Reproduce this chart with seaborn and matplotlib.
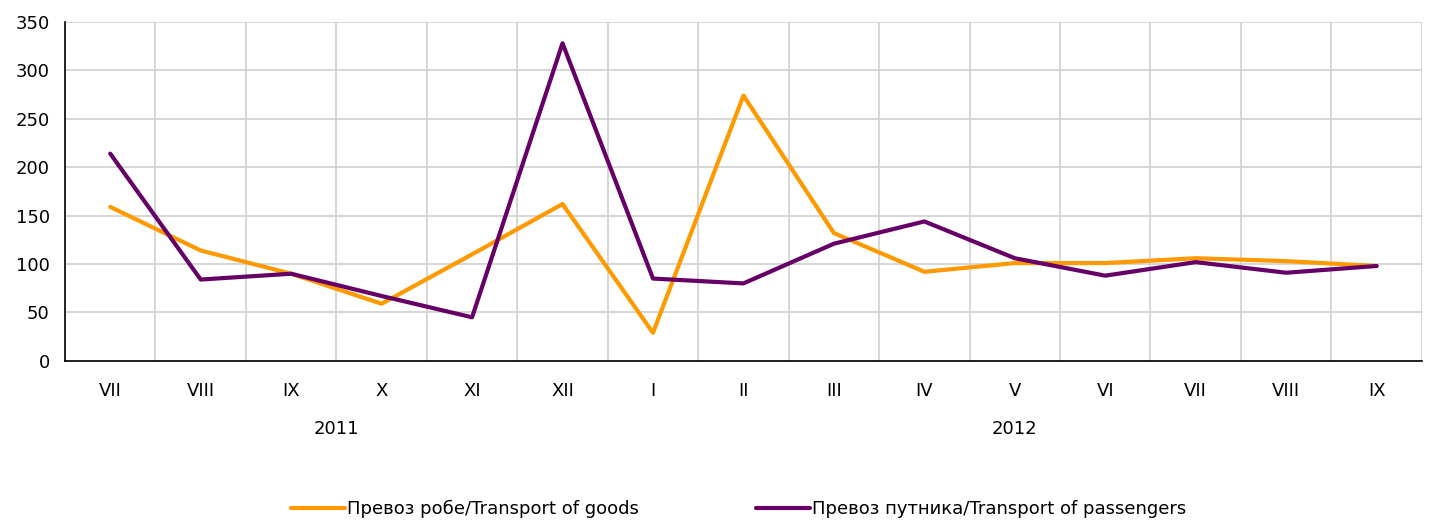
import pandas as pd
import numpy as np
import seaborn as sns
from matplotlib import pyplot as plt
from matplotlib.ticker import FixedLocator

months = ['VII', 'VIII', 'IX', 'X', 'XI', 'XII', 'I', 'II', 'III', 'IV', 'V', 'VI', 'VII', 'VIII', 'IX']
years = ['2011', '2012']
year_span = [(0, 5), (6, 14)]  # first and last month index of each year

goods = [159, 114, 90, 59, 110, 162, 29, 274, 132, 92, 101, 101, 106, 103, 98]
passengers = [214, 84, 90, 67, 45, 328, 85, 80, 121, 144, 106, 88, 102, 91, 98]

label_goods = 'Превоз робе/Transport of goods'
label_pass = 'Превоз путника/Transport of passengers'

sns.set_theme(style='white')
plt.rcParams['font.family'] = ['DejaVu Sans']
plt.rcParams['text.color'] = 'black'
plt.rcParams['xtick.color'] = 'black'
plt.rcParams['ytick.color'] = 'black'

df = pd.DataFrame({
    'x': list(range(len(months))) * 2,
    'value': goods + passengers,
    'series': [label_goods] * len(goods) + [label_pass] * len(passengers),
})

fig = plt.figure(figsize=(14.29, 5.23), dpi=100)
ax = fig.add_axes([0.0455, 0.31, 0.9495, 0.648])

sns.lineplot(data=df, x='x', y='value', hue='series',
             palette={label_goods: '#FF9900', label_pass: '#660066'},
             linewidth=3, ax=ax, legend=False)

n = len(months)
ax.set_xlim(-0.5, n - 0.5)
ax.set_ylim(0, 350)
ax.set_yticks(range(0, 351, 50))
ax.set_xticks(range(n))
ax.set_xticklabels(months)
ax.xaxis.set_minor_locator(FixedLocator(np.arange(-0.5, n, 1)))
ax.tick_params(axis='x', which='major', length=0, pad=15, labelsize=13)
ax.tick_params(axis='x', which='minor', length=7, width=1, color='black', direction='out')
ax.tick_params(axis='y', length=7, width=1, color='black', direction='out', labelsize=13, pad=4)
ax.grid(True, axis='y', which='major', color='#d0d0d0', linewidth=1.2)
ax.grid(True, axis='x', which='minor', color='#d0d0d0', linewidth=1.2)
ax.set_axisbelow(True)
ax.set_xlabel('')
ax.set_ylabel('')
for s in ['top', 'right']:
    ax.spines[s].set_visible(False)
for s in ['left', 'bottom']:
    ax.spines[s].set_color('black')
    ax.spines[s].set_linewidth(1.2)

for yr, (a, b) in zip(years, year_span):
    ax.text((a + b) / 2, -0.2, yr, transform=ax.get_xaxis_transform(),
            ha='center', va='center', fontsize=13)

handles = [plt.Line2D([], [], color='#FF9900', lw=3),
           plt.Line2D([], [], color='#660066', lw=3)]
fig.legend(handles, [label_goods, label_pass], loc='center', bbox_to_anchor=(0.517, 0.027),
           ncol=2, frameon=False, fontsize=13, handlelength=3, handletextpad=0.1,
           columnspacing=6.5)

fig.savefig('out.png', dpi=100)
